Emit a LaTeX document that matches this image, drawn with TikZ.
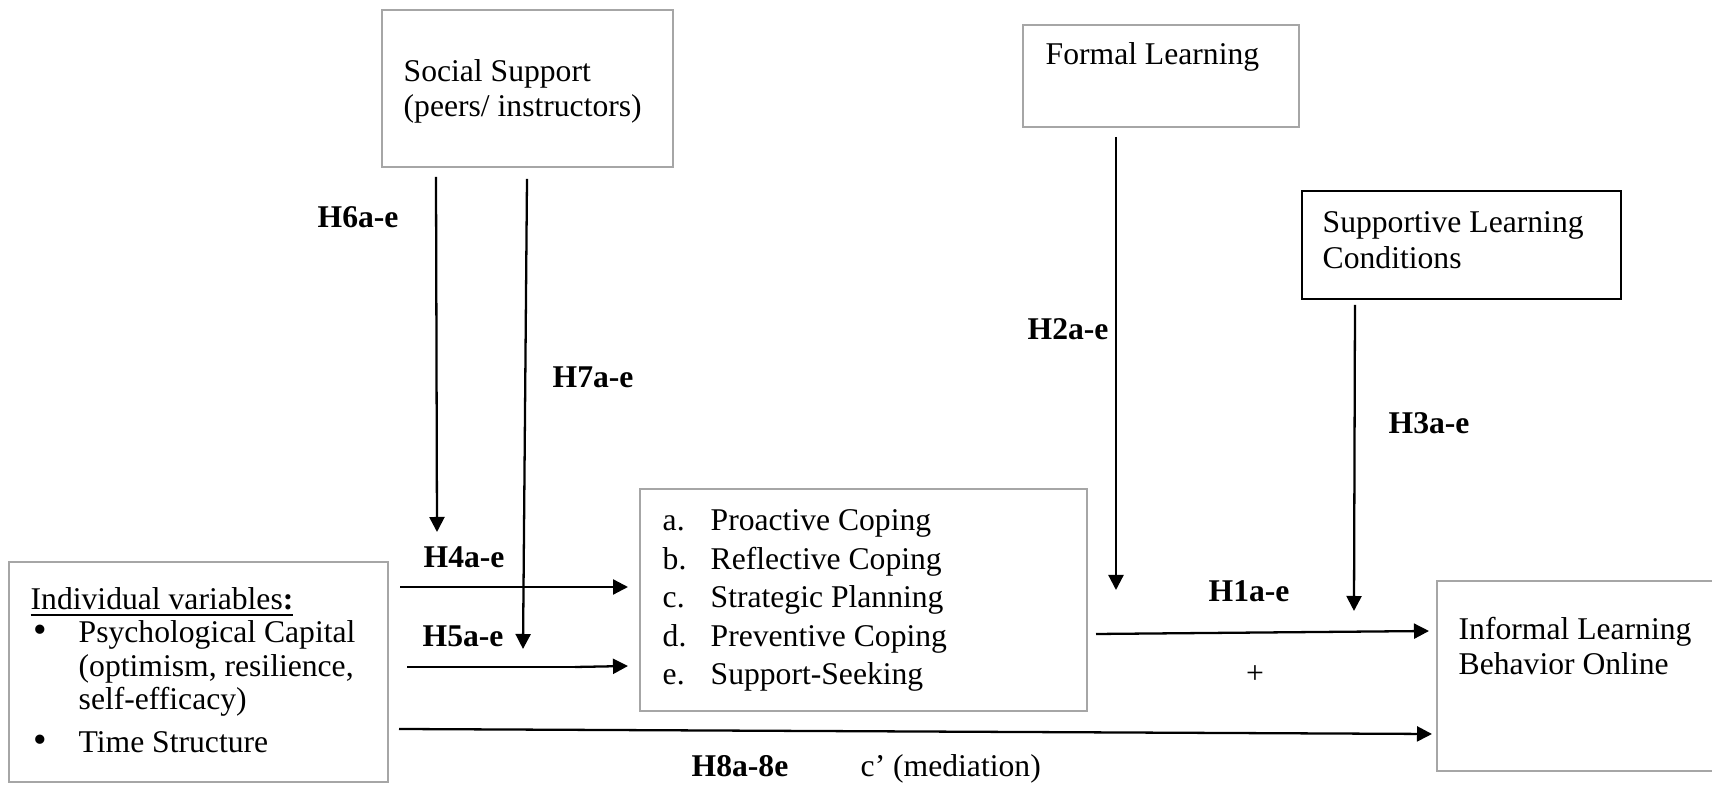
\documentclass[tikz,border=0pt]{standalone}
\usepackage{fontspec}
\setmainfont{Liberation Serif}
\usetikzlibrary{arrows.meta,fit}

\definecolor{boxgray}{RGB}{166,166,166}

\newcommand\ivbullet{\makebox[4.8mm][l]{\hspace{0.3mm}{\fontsize{11}{9.5}\selectfont\textbullet}}}

\tikzset{
  gbox/.style={draw=boxgray, line width=0.6pt, inner sep=0pt},
  bbox/.style={draw=black, line width=0.45pt, inner sep=0pt},
  txt/.style={inner sep=0pt, align=left, font=\fontsize{9}{10.2}\selectfont},
  hyp/.style={inner sep=0pt, font=\fontsize{9}{10.2}\selectfont\bfseries},
  link/.style={line width=0.65pt, -{Triangle[length=1.5mm,width=1.5mm]}}
}

\begin{document}
\begin{tikzpicture}[x=0.1mm, y=-0.1mm]

\useasboundingbox (0,0) rectangle (1712,791);
\clip (0,0) rectangle (1712,791);

% boxes
\node[gbox, fit={(382,10) (673,167)}] (ss) {};
\node[gbox, fit={(1023,25) (1299,127)}] (fl) {};
\node[bbox, fit={(1302,191) (1621,299)}] (slc) {};
\node[gbox, fit={(9,562) (388,782)}] (iv) {};
\node[gbox, fit={(640,489) (1087,711)}] (cop) {};
\node[gbox, fit={(1437,581) (1716,771)}] (ilb) {};

% box texts (base = baseline of the last line)
\node[txt, anchor=base west, font=\fontsize{9}{10}\selectfont] (sstext) at (403,117) {Social Support\\(peers/ instructors)};
\node[txt, anchor=base west] (fltext) at (1045,65) {Formal Learning};
\node[txt, anchor=base west, font=\fontsize{9}{10.5}\selectfont] (slctext) at (1322,269) {Supportive Learning\\Conditions};
\node[txt, anchor=base west] (ilbtext) at (1458,675) {Informal Learning\\Behavior Online};
\node[txt, anchor=base west, font=\fontsize{9}{9.5}\selectfont] (ivtext) at (30,753)
  {\underline{Individual variables\textbf{:}}\\
   \ivbullet Psychological Capital\\
   \hspace*{4.8mm}(optimism, resilience,\\
   \hspace*{4.8mm}self-efficacy)\\[1mm]
   \ivbullet Time Structure};
\node[txt, anchor=base west, font=\fontsize{9}{11}\selectfont] (coptext) at (662,685)
  {\makebox[4.8mm][l]{a.}Proactive Coping\\
   \makebox[4.8mm][l]{b.}Reflective Coping\\
   \makebox[4.8mm][l]{c.}Strategic Planning\\
   \makebox[4.8mm][l]{d.}Preventive Coping\\
   \makebox[4.8mm][l]{e.}Support-Seeking};

% free ends of the paths
\coordinate (ssLtop) at (436,177);
\coordinate (ssLend) at (437,532);
\coordinate (ssRtop) at (527,179);
\coordinate (ssRend) at (523,649);
\coordinate (fltop) at (1116,137);
\coordinate (flend) at (1116,590);
\coordinate (slctop) at (1355,305);
\coordinate (slcend) at (1354,611);
\coordinate (h4start) at (400,587);
\coordinate (h4end) at (628,587);
\coordinate (h5start) at (407,667);
\coordinate (h5mid) at (575,667);
\coordinate (h5end) at (628,666);
\coordinate (h1start) at (1096,634);
\coordinate (h1end) at (1429,631);
\coordinate (h8start) at (399,729);
\coordinate (h8end) at (1432,734);

\draw[link] (ssLtop) -- (ssLend);
\draw[link] (ssRtop) -- (ssRend);
\draw[link] (fltop) -- (flend);
\draw[link] (slctop) -- (slcend);
\draw[link] (h4start) -- (h4end);
\draw[line width=0.35pt] (h5start) -- (h5mid);
\draw[link] (h5mid) -- (h5end);
\draw[link] (h1start) -- (h1end);
\draw[link] (h8start) -- (h8end);

% hypotheses
\node[hyp, anchor=base west] (h6) at (317,228) {H6a-e};
\node[hyp, anchor=base west] (h7) at (552,388) {H7a-e};
\node[hyp, anchor=base west] (h4) at (423,568) {H4a-e};
\node[hyp, anchor=base west] (h5) at (422,647) {H5a-e};
\node[hyp, anchor=base west] (h1) at (1208,602) {H1a-e};
\node[hyp, anchor=base west] (h2) at (1027,340) {H2a-e};
\node[hyp, anchor=base west] (h3) at (1388,434) {H3a-e};
\node[hyp, anchor=base west] (h8) at (691,777) {H8a-8e};
\node[txt] (plus) at (1255,675) {+};
\node[txt, anchor=base west] (cmed) at (860,777) {c’ (mediation)};

\end{tikzpicture}
\end{document}
